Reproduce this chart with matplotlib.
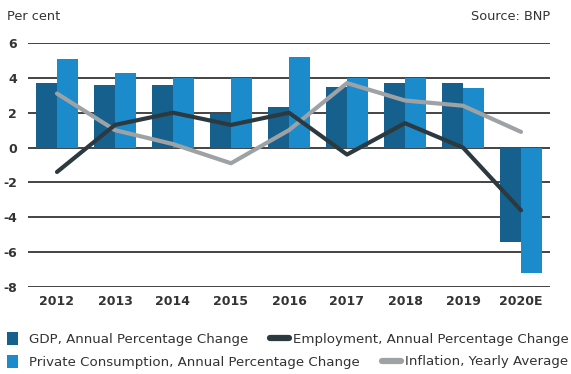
import numpy as np
import matplotlib.pyplot as plt

years = ['2012', '2013', '2014', '2015', '2016', '2017', '2018', '2019', '2020E']
gdp = [3.7, 3.6, 3.6, 1.9, 2.3, 3.5, 3.7, 3.7, -5.4]
consumption = [5.1, 4.3, 4.0, 4.0, 5.2, 4.0, 4.0, 3.4, -7.2]
employment = [-1.4, 1.3, 2.0, 1.3, 2.0, -0.4, 1.4, 0.0, -3.6]
inflation = [3.1, 1.0, 0.2, -0.9, 1.0, 3.7, 2.7, 2.4, 0.9]

c_gdp = '#16608e'
c_cons = '#1b8bcb'
c_emp = '#2c3a40'
c_inf = '#9ea2a5'
txt = '#333333'

fig = plt.figure(figsize=(5.71, 3.74), dpi=100)
ax = fig.add_axes([28/571, 1-287/374, (550-28)/571, (287-43)/374])

x = np.arange(len(years))
w = 0.355
b1 = ax.bar(x - w/2, gdp, w, color=c_gdp, zorder=2, label='GDP, Annual Percentage Change')
b2 = ax.bar(x + w/2, consumption, w, color=c_cons, zorder=2,
            label='Private Consumption, Annual Percentage Change')
l1, = ax.plot(x, employment, color=c_emp, lw=3, zorder=4, solid_capstyle='round',
              label='Employment, Annual Percentage Change')
l2, = ax.plot(x, inflation, color=c_inf, lw=3, zorder=3, solid_capstyle='round',
              label='Inflation, Yearly Average')

ax.set_xlim(-0.5, 8.5)
ax.set_ylim(-8, 6)
ax.set_yticks(range(-8, 7, 2))
ax.set_yticklabels([str(v) for v in range(-8, 7, 2)])
ax.set_xticks(x)
ax.set_xticklabels(years)
for v in range(-8, 7, 2):
    ax.axhline(v, color='#111111', lw=1.1, zorder=1)
for s in ax.spines.values():
    s.set_visible(False)
ax.tick_params(length=0, labelsize=9, colors=txt, pad=6)
ax.tick_params(axis='y', pad=8)
for t in ax.get_xticklabels() + ax.get_yticklabels():
    t.set_fontweight('bold')

fig.text(7/571, 1-17/374, 'Per cent', fontsize=9.3, color=txt, va='center', ha='left')
fig.text(550/571, 1-17/374, 'Source: BNP', fontsize=9.3, color=txt, va='center', ha='right')

# four separate legend entries, placed where the reference has them
leg_kw = dict(frameon=False, fontsize=9.6, borderaxespad=0, borderpad=0, labelcolor=txt,
              loc='center left')
emp_h, = plt.plot([], [], color=c_emp, lw=4.5, solid_capstyle='round')
inf_h, = plt.plot([], [], color=c_inf, lw=4.5, solid_capstyle='round')
entries = [
    (b1, b1.get_label(), 7, 339, 'patch'),
    (emp_h, l1.get_label(), 270, 339, 'line'),
    (b2, b2.get_label(), 7, 362, 'patch'),
    (inf_h, l2.get_label(), 382, 362, 'line'),
]
for h, lab, px, py, kind in entries:
    if kind == 'patch':
        kw = dict(handlelength=0.83, handleheight=1.1, handletextpad=0.8)
    else:
        kw = dict(handlelength=1.4, handletextpad=0.3)
    fig.legend([h], [lab], bbox_to_anchor=(px/571, 1-py/374), **kw, **leg_kw)

fig.savefig('out.png', dpi=100)
